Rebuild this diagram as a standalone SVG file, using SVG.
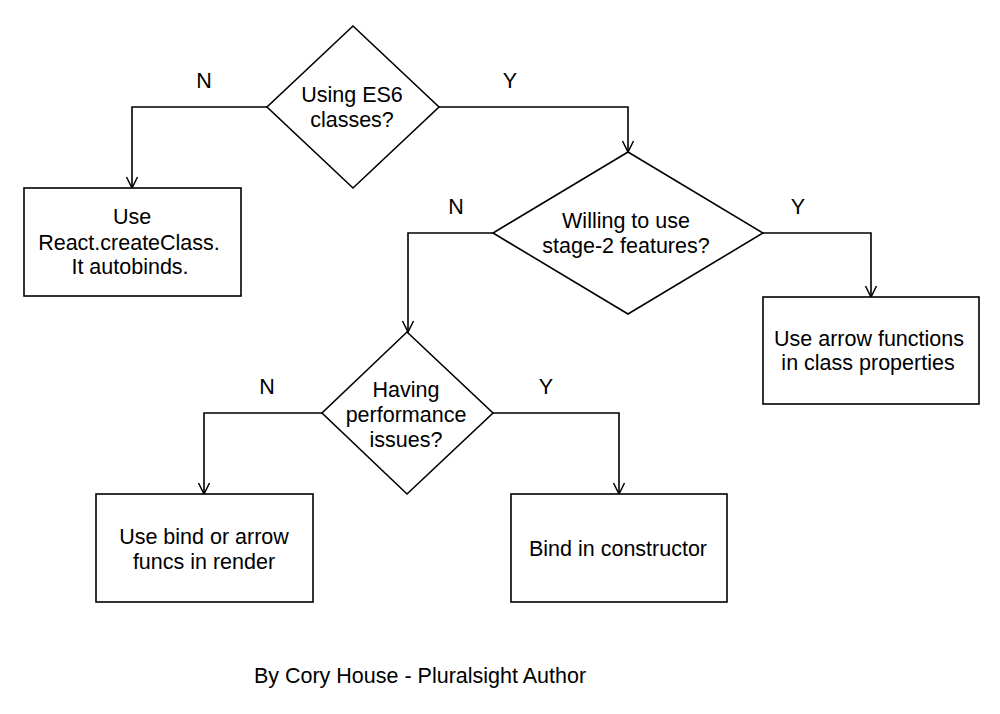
<svg xmlns="http://www.w3.org/2000/svg" width="1000" height="714" viewBox="0 0 1000 714">
<defs>
<marker id="arr" markerWidth="14" markerHeight="14" refX="12" refY="7" orient="auto" markerUnits="userSpaceOnUse">
<path d="M1,1.5 L12,7 L1,12.5" fill="none" stroke="#000" stroke-width="1.5"/>
</marker>
<style>
.shape{fill:#fff;stroke:#000;stroke-width:1.6}
.conn{fill:none;stroke:#000;stroke-width:1.6;marker-end:url(#arr)}
text{font-family:"Liberation Sans",Arial,Helvetica,sans-serif;font-size:21.5px;fill:#000;text-anchor:middle}
</style>
</defs>
<rect width="1000" height="714" fill="#fff"/>
<g id="connectors">
<path class="conn" d="M267,107 H132 V188"/>
<path class="conn" d="M439,107 H628 V152"/>
<path class="conn" d="M493,233 H408 V332"/>
<path class="conn" d="M763,233 H871 V297"/>
<path class="conn" d="M322,413 H204 V494"/>
<path class="conn" d="M493,413 H619 V494"/>
<text x="204" y="88">N</text>
<text x="510" y="88">Y</text>
<text x="456" y="214">N</text>
<text x="798" y="214">Y</text>
<text x="267" y="394">N</text>
<text x="546" y="394">Y</text>
</g>
<g id="q-es6">
<polygon class="shape" points="353,26 439,107 353,188 267,107"/>
<text x="352" y="102">Using ES6</text>
<text x="352" y="127">classes?</text>
</g>
<g id="createclass">
<rect class="shape" x="24" y="188" width="217" height="108"/>
<text x="132" y="224">Use</text>
<text x="129" y="250">React.createClass.</text>
<text x="130" y="274">It autobinds.</text>
</g>
<g id="q-stage2">
<polygon class="shape" points="628,152 763,233 628,314 493,233"/>
<text x="626" y="228">Willing to use</text>
<text x="626" y="253">stage-2 features?</text>
</g>
<g id="arrow-props">
<rect class="shape" x="763" y="297" width="216" height="107"/>
<text x="869" y="346">Use arrow functions</text>
<text x="868" y="370">in class properties</text>
</g>
<g id="q-perf">
<polygon class="shape" points="407,332 493,413 407,494 322,413"/>
<text x="406" y="397">Having</text>
<text x="406" y="422">performance</text>
<text x="406" y="447">issues?</text>
</g>
<g id="bind-render">
<rect class="shape" x="96" y="494" width="217" height="108"/>
<text x="204" y="544">Use bind or arrow</text>
<text x="204" y="569">funcs in render</text>
</g>
<g id="bind-ctor">
<rect class="shape" x="511" y="494" width="216" height="108"/>
<text x="618" y="556">Bind in constructor</text>
</g>
<text x="420" y="683">By Cory House - Pluralsight Author</text>
</svg>
